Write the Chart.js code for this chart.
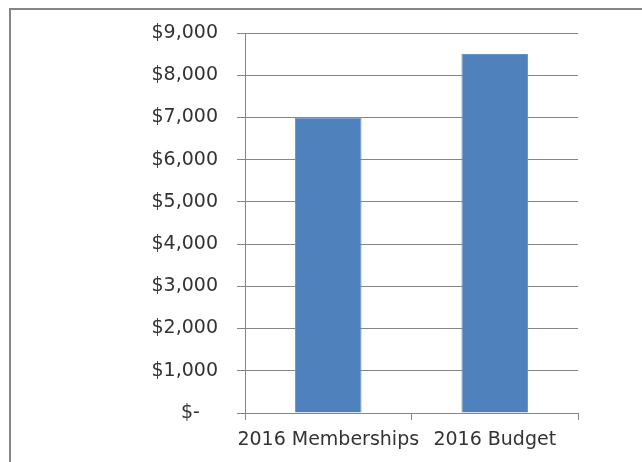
<!DOCTYPE html>
<html>
<head>
<meta charset="utf-8">
<script src="https://cdn.jsdelivr.net/npm/chart.js@4.4.1/dist/chart.umd.min.js"></script>
<style>
  html, body { margin: 0; padding: 0; background: #fff; }
  canvas { display: block; }
</style>
</head>
<body>
<canvas id="chart" width="642" height="462"></canvas>
<script>
const categories = ["2016 Memberships", "2016 Budget"];
const amounts = [7000, 8500];
const yTickLabels = ["$-   ", "$1,000", "$2,000", "$3,000", "$4,000", "$5,000", "$6,000", "$7,000", "$8,000", "$9,000"];

const GRID = "#868686";
const TEXT = "#333333";

// outer frame of the pasted chart (left and top edges only are visible)
const framePlugin = {
    id: "frame",
    beforeDraw(chart) {
        const ctx = chart.ctx;
        ctx.save();
        ctx.fillStyle = "#ffffff";
        ctx.fillRect(0, 0, chart.width, chart.height);
        ctx.strokeStyle = "#858585";
        ctx.lineWidth = 2;
        ctx.strokeRect(10, 9, chart.width + 20, chart.height + 20);
        ctx.restore();
    },
};

new Chart(document.getElementById("chart"), {
    type: "bar",
    data: {
        labels: categories,
        datasets: [
            {
                data: amounts,
                backgroundColor: "#4F81BD",
                borderColor: "#6A93C6",
                borderWidth: 1,
                barPercentage: 0.4,
                categoryPercentage: 1.0,
            },
        ],
    },
    options: {
        responsive: false,
        animation: false,
        layout: { padding: { left: 0, right: 64, top: 33, bottom: 0 } },
        plugins: {
            legend: { display: false },
            tooltip: { enabled: false },
        },
        scales: {
            x: {
                afterFit: (scale) => { scale.height = 49; },
                grid: {
                    display: true,
                    drawOnChartArea: false,
                    drawTicks: true,
                    offset: true,
                    tickLength: 7,
                    color: GRID,
                },
                border: { color: GRID, width: 1 },
                ticks: {
                    color: TEXT,
                    padding: 9,
                    autoSkip: false,
                    font: { family: "DejaVu Sans", size: 19 },
                    maxRotation: 0,
                },
            },
            y: {
                min: 0,
                max: 9000,
                afterFit: (scale) => { scale.width = 245; },
                grid: {
                    color: GRID,
                    tickLength: 8,
                },
                border: { color: GRID, width: 1 },
                ticks: {
                    stepSize: 1000,
                    color: TEXT,
                    padding: 19,
                    font: { family: "DejaVu Sans", size: 19 },
                    callback: (value, index) => yTickLabels[index],
                },
            },
        },
    },
    plugins: [framePlugin],
});
</script>
</body>
</html>
